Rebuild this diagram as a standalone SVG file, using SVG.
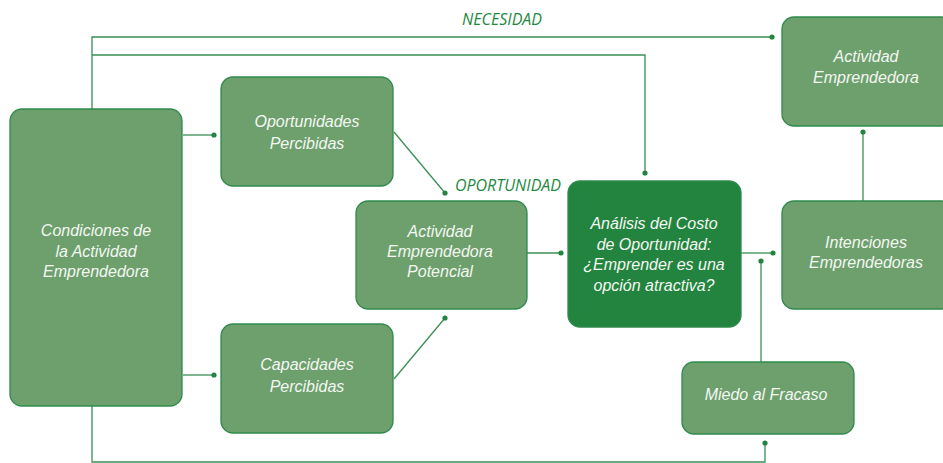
<svg xmlns="http://www.w3.org/2000/svg" width="943" height="463" viewBox="0 0 943 463">
<style>
.box{fill:#6da06d;stroke:#2f8a4c;stroke-width:1.3}
.dark{fill:#22843f;stroke:#2f8a4c;stroke-width:1.3}
.t{font-family:"Liberation Sans","Open Sans",sans-serif;font-style:italic;font-size:16px;fill:#f4f7f2;text-anchor:middle}
.lbl{font-family:"Open Sans","DejaVu Sans",sans-serif;font-style:italic;font-size:16px;fill:#23893f;text-anchor:middle}
.c{fill:none;stroke:#3a8f55;stroke-width:1.3}
.d{fill:#23843f}
</style>
<rect width="943" height="463" fill="#ffffff"/>
<g id="connectors">
<polyline class="c" points="92,109 92,37 772,37"/>
<circle class="d" cx="772" cy="37" r="2.6"/>
<polyline class="c" points="92,55 645,55 645,173"/>
<circle class="d" cx="645" cy="173" r="2.6"/>
<line class="c" x1="183" y1="135" x2="214" y2="135"/>
<circle class="d" cx="214" cy="135" r="2.6"/>
<line class="c" x1="183" y1="375" x2="214" y2="375"/>
<circle class="d" cx="214" cy="375" r="2.6"/>
<line class="c" x1="394" y1="132" x2="445" y2="193"/>
<circle class="d" cx="445" cy="193" r="2.6"/>
<line class="c" x1="394" y1="379" x2="445" y2="318"/>
<circle class="d" cx="445" cy="318" r="2.6"/>
<line class="c" x1="527" y1="253" x2="561" y2="253"/>
<circle class="d" cx="561" cy="253" r="2.6"/>
<line class="c" x1="741" y1="253" x2="773" y2="253"/>
<circle class="d" cx="773" cy="253" r="2.6"/>
<line class="c" x1="761" y1="362" x2="761" y2="261"/>
<circle class="d" cx="761" cy="261" r="2.6"/>
<line class="c" x1="863" y1="201" x2="863" y2="132"/>
<circle class="d" cx="863" cy="132" r="2.6"/>
<polyline class="c" points="92,406 92,462 765,462 765,443"/>
<circle class="d" cx="765" cy="443" r="2.6"/>
<text class="lbl" x="502" y="25">NECESIDAD</text>
<text class="lbl" x="508" y="191">OPORTUNIDAD</text>
</g>
<g id="condiciones">
<rect class="box" x="10" y="109" width="172" height="297" rx="12"/>
<text class="t" x="96" y="236">Condiciones de</text>
<text class="t" x="96" y="257">la Actividad</text>
<text class="t" x="96" y="277">Emprendedora</text>
</g>
<g id="oportunidades">
<rect class="box" x="221" y="77" width="172" height="109" rx="12"/>
<text class="t" x="307" y="127">Oportunidades</text>
<text class="t" x="307" y="149">Percibidas</text>
</g>
<g id="capacidades">
<rect class="box" x="221" y="324" width="172" height="109" rx="12"/>
<text class="t" x="307" y="370">Capacidades</text>
<text class="t" x="307" y="392">Percibidas</text>
</g>
<g id="potencial">
<rect class="box" x="356" y="201" width="171" height="108" rx="12"/>
<text class="t" x="440" y="237">Actividad</text>
<text class="t" x="440" y="257">Emprendedora</text>
<text class="t" x="440" y="277">Potencial</text>
</g>
<g id="analisis">
<rect class="dark" x="568" y="181" width="173" height="146" rx="12"/>
<text class="t" x="654" y="229">Análisis del Costo</text>
<text class="t" x="654" y="250">de Oportunidad:</text>
<text class="t" x="654" y="270">¿Emprender es una</text>
<text class="t" x="654" y="291">opción atractiva?</text>
</g>
<g id="intenciones">
<rect class="box" x="782" y="201" width="172" height="108" rx="12"/>
<text class="t" x="866" y="248">Intenciones</text>
<text class="t" x="866" y="268">Emprendedoras</text>
</g>
<g id="actividad">
<rect class="box" x="782" y="17" width="172" height="109" rx="12"/>
<text class="t" x="866" y="62">Actividad</text>
<text class="t" x="866" y="83">Emprendedora</text>
</g>
<g id="miedo">
<rect class="box" x="682" y="362" width="172" height="72" rx="12"/>
<text class="t" x="766" y="400">Miedo al Fracaso</text>
</g>
</svg>
